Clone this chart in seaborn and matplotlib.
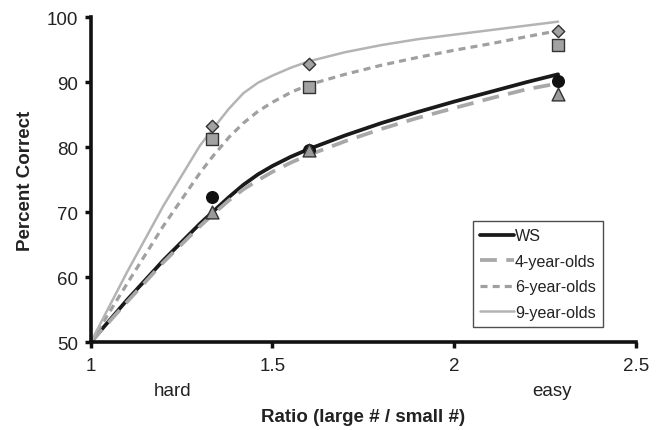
import matplotlib
matplotlib.use("Agg")
import matplotlib.pyplot as plt
import seaborn as sns
import pandas as pd
from matplotlib.lines import Line2D

sns.set_theme(style="white")
plt.rcParams['font.family'] = ['Liberation Sans', 'DejaVu Sans']

# Observed data points
ratios = [1.333, 1.6, 2.286]
ws_pts = [72.3, 79.6, 90.1]
age4_pts = [70.0, 79.5, 88.2]
age6_pts = [81.2, 89.2, 95.7]
age9_pts = [83.3, 92.8, 97.8]

# Fitted curves
curve_x = [1.0, 1.1, 1.2, 1.3, 1.333, 1.38, 1.42, 1.46, 1.5, 1.55, 1.6,
           1.7, 1.8, 1.9, 2.0, 2.1, 2.2, 2.286]
ws_curve = [50, 56.5, 62.6, 68.2, 69.9, 72.3, 74.2, 75.8, 77.1, 78.5, 79.7,
            81.8, 83.7, 85.4, 87.0, 88.5, 90.0, 91.2]
age4_curve = [50, 56.2, 62.3, 67.8, 69.5, 71.8, 73.5, 74.9, 76.2, 77.6, 78.8,
              80.9, 82.8, 84.5, 86.0, 87.5, 88.9, 89.8]
age6_curve = [50, 59.0, 67.9, 76.0, 78.4, 81.5, 83.7, 85.5, 86.9, 88.4, 89.6,
              91.2, 92.6, 93.8, 94.9, 95.9, 97.0, 97.9]
age9_curve = [50, 60.8, 71.0, 80.2, 82.6, 85.9, 88.3, 89.9, 91.0, 92.2, 93.2,
              94.6, 95.7, 96.6, 97.3, 98.0, 98.7, 99.3]

series = ["WS", "4-year-olds", "6-year-olds", "9-year-olds"]
yticks = [50, 60, 70, 80, 90, 100]
xticks = [1, 1.5, 2, 2.5]
xtick_labels = ["1", "1.5", "2", "2.5"]

curves = {"WS": ws_curve, "4-year-olds": age4_curve,
          "6-year-olds": age6_curve, "9-year-olds": age9_curve}
points = {"WS": ws_pts, "4-year-olds": age4_pts,
          "6-year-olds": age6_pts, "9-year-olds": age9_pts}

line_styles = {
    "WS": dict(color="#1a1a1a", lw=2.7, ls="-"),
    "4-year-olds": dict(color="#a8a8a8", lw=2.7, ls=(0, (4.5, 2.5))),
    "6-year-olds": dict(color="#a0a0a0", lw=2.3, ls=(0, (2.2, 1.6))),
    "9-year-olds": dict(color="#b4b4b4", lw=1.8, ls="-"),
}
marker_styles = {
    "WS": dict(marker="o", s=70, color="#111111", edgecolor="#111111"),
    "4-year-olds": dict(marker="^", s=85, color="#9a9a9a", edgecolor="#333333"),
    "6-year-olds": dict(marker="s", s=85, color="#a2a2a2", edgecolor="#333333"),
    "9-year-olds": dict(marker="D", s=40, color="#a2a2a2", edgecolor="#333333"),
}

fig = plt.figure(figsize=(6.63, 4.31), dpi=100)
ax = fig.add_axes([0.137, 0.204, 0.822, 0.754])

for name in series:
    df = pd.DataFrame({"x": curve_x, "y": curves[name]})
    st = line_styles[name]
    sns.lineplot(data=df, x="x", y="y", ax=ax, color=st["color"],
                 linewidth=st["lw"], linestyle=st["ls"], clip_on=False,
                 legend=False, zorder=2)

for name in series:
    dfp = pd.DataFrame({"x": ratios, "y": points[name]})
    ms = marker_styles[name]
    sns.scatterplot(data=dfp, x="x", y="y", ax=ax, marker=ms["marker"],
                    s=ms["s"], color=ms["color"], edgecolor=ms["edgecolor"],
                    linewidth=1.0, legend=False, zorder=3, clip_on=False)

ax.set_xlim(1, 2.5)
ax.set_ylim(50, 100)
ax.set_xticks(xticks)
ax.set_xticklabels(xtick_labels)
ax.set_yticks(yticks)
for s in ["top", "right"]:
    ax.spines[s].set_visible(False)
for s in ["left", "bottom"]:
    ax.spines[s].set_color("#111111")
    ax.spines[s].set_linewidth(2.6)
ax.tick_params(axis="both", which="both", direction="out", length=4, width=2.5,
               color="#111111", labelsize=13.5, labelcolor="#222222",
               left=True, bottom=True)
ax.tick_params(axis="x", pad=7)
ax.tick_params(axis="y", pad=5)
ax.set_xlabel("Ratio (large # / small #)", fontsize=13.5, fontweight="bold",
              labelpad=24, color="#222222")
ax.set_ylabel("Percent Correct", fontsize=13.5, fontweight="bold",
              labelpad=9, color="#222222")

ax.text(1.226, -0.148, "hard", transform=ax.get_xaxis_transform(),
        ha="center", va="center", fontsize=13.5, color="#222222")
ax.text(2.27, -0.148, "easy", transform=ax.get_xaxis_transform(),
        ha="center", va="center", fontsize=13.5, color="#222222")

handles = [Line2D([0], [0], color=line_styles[n]["color"], lw=line_styles[n]["lw"],
                  ls=line_styles[n]["ls"]) for n in series]
leg = ax.legend(handles, series, loc="lower right", bbox_to_anchor=(0.94, 0.046),
                frameon=True, fancybox=False, fontsize=11.6, handlelength=2.1,
                handletextpad=0.05, labelspacing=0.65, borderpad=0.45,
                borderaxespad=0.0)
leg.get_frame().set_edgecolor("#222222")
leg.get_frame().set_linewidth(1.0)
for t in leg.get_texts():
    t.set_color("#222222")

fig.savefig("out.png", dpi=100)
